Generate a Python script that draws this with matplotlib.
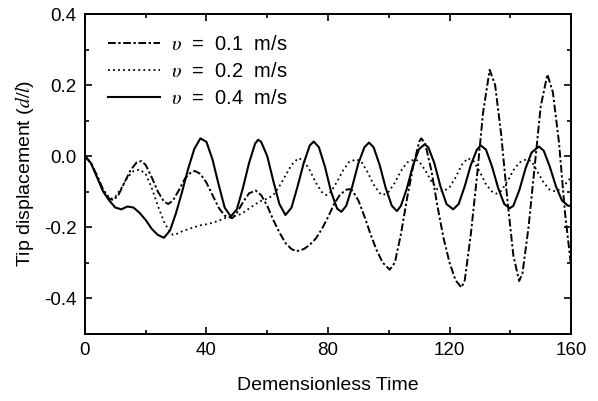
"""
Tip displacement vs dimensionless time for three pulling speeds
"""
import matplotlib.pyplot as plt
from matplotlib.ticker import MultipleLocator

plt.rcParams['font.family'] = ['Liberation Sans', 'DejaVu Sans']
plt.rcParams['mathtext.fontset'] = 'stix'

# v = 0.1 m/s (dash-dot)
t_01 = [0, 2, 4, 6, 8, 9.3, 11, 13, 15, 17, 18.6, 20, 22, 24, 26, 27.4, 29, 31, 33, 35,
        36.2, 38, 40, 42, 44, 46, 48.5, 50, 52, 54, 56.2, 58, 60, 62, 64, 66, 68, 69.6,
        72, 74, 76, 78, 80, 82, 84, 86, 87, 88, 90, 92, 94, 96, 98, 100.3, 102, 104, 106,
        108, 110, 110.7, 112, 114, 116, 118, 120, 122, 123.9, 125, 127, 129, 131, 133.2,
        135, 137, 139, 141, 142.9, 144, 146, 148, 150, 152.2, 154, 156, 158, 160]
d_01 = [0.0, -0.02, -0.055, -0.095, -0.12, -0.124, -0.11, -0.075, -0.04, -0.018, -0.014,
        -0.025, -0.06, -0.1, -0.128, -0.135, -0.125, -0.095, -0.062, -0.045, -0.042, -0.05,
        -0.075, -0.11, -0.145, -0.168, -0.175, -0.16, -0.13, -0.105, -0.097, -0.11, -0.14,
        -0.18, -0.215, -0.245, -0.262, -0.268, -0.262, -0.25, -0.232, -0.205, -0.172,
        -0.135, -0.108, -0.095, -0.093, -0.097, -0.125, -0.17, -0.22, -0.265, -0.3, -0.32,
        -0.3, -0.22, -0.12, -0.03, 0.04, 0.05, 0.035, -0.04, -0.14, -0.23, -0.3, -0.35,
        -0.37, -0.35, -0.22, -0.06, 0.12, 0.243, 0.2, 0.06, -0.12, -0.28, -0.352, -0.33,
        -0.2, -0.03, 0.14, 0.23, 0.18, 0.04, -0.16, -0.31]

# v = 0.2 m/s (dotted)
t_02 = [0, 2, 4, 6, 8, 9, 10, 12, 14, 16, 18, 20, 22, 24, 26, 28, 29, 30, 32, 34, 36, 38,
        40, 42, 44, 46, 48, 50, 52, 54, 56, 58, 60, 62, 64, 66, 68, 70.2, 72, 74, 76, 78,
        79.5, 81, 83, 85, 87, 89.4, 91, 93, 95, 97, 98.1, 100, 102, 104, 106, 108.6, 110,
        112, 114, 116, 117.9, 120, 122, 124, 126, 128, 130, 132, 134, 135.4, 137, 139, 141,
        143, 145.3, 147, 149, 151, 153, 155, 157, 159, 160]
d_02 = [0.0, -0.02, -0.055, -0.095, -0.118, -0.12, -0.115, -0.09, -0.06, -0.042, -0.038,
        -0.05, -0.09, -0.14, -0.185, -0.215, -0.222, -0.22, -0.212, -0.206, -0.2, -0.195,
        -0.192, -0.188, -0.182, -0.175, -0.17, -0.168, -0.16, -0.148, -0.136, -0.126, -0.12,
        -0.11, -0.085, -0.055, -0.025, -0.006, -0.012, -0.04, -0.075, -0.102, -0.11, -0.1,
        -0.072, -0.04, -0.016, -0.009, -0.016, -0.045, -0.08, -0.104, -0.11, -0.1, -0.075,
        -0.042, -0.018, -0.009, -0.015, -0.04, -0.07, -0.094, -0.1, -0.088, -0.06, -0.025,
        -0.006, -0.015, -0.045, -0.08, -0.1, -0.106, -0.098, -0.072, -0.04, -0.018, -0.009,
        -0.015, -0.045, -0.075, -0.095, -0.1, -0.09, -0.07, -0.06]

# v = 0.4 m/s (solid)
t_04 = [0, 2, 4, 6, 8, 10, 12, 14, 16, 18, 20, 22, 24, 26, 28, 30, 32, 34, 36, 38, 40, 42,
        44, 46, 48, 50, 52, 54, 56, 57, 58, 60, 62, 64, 66, 68, 70, 72, 74, 75.3, 77, 79,
        81, 83, 84.4, 86, 88, 90, 92, 93.5, 95, 97, 99, 101, 102.7, 104, 106, 108, 110,
        111.8, 113, 115, 117, 119, 121.2, 123, 125, 127, 129, 130.3, 132, 134, 136, 138,
        139.8, 141, 143, 145, 147, 149.4, 151, 153, 155, 157, 159, 160]
d_04 = [0.0, -0.02, -0.06, -0.1, -0.125, -0.145, -0.15, -0.142, -0.145, -0.16, -0.18,
        -0.205, -0.222, -0.23, -0.21, -0.16, -0.1, -0.035, 0.02, 0.05, 0.04, -0.01, -0.08,
        -0.145, -0.17, -0.15, -0.09, -0.02, 0.035, 0.046, 0.04, 0.0, -0.07, -0.135, -0.166,
        -0.145, -0.085, -0.02, 0.03, 0.041, 0.025, -0.03, -0.1, -0.148, -0.157, -0.14,
        -0.085, -0.02, 0.025, 0.038, 0.025, -0.025, -0.09, -0.14, -0.155, -0.14, -0.09,
        -0.025, 0.02, 0.033, 0.025, -0.02, -0.085, -0.135, -0.15, -0.135, -0.085, -0.025,
        0.018, 0.03, 0.018, -0.03, -0.09, -0.135, -0.147, -0.14, -0.095, -0.035, 0.01,
        0.027, 0.015, -0.03, -0.085, -0.125, -0.14, -0.14]

labels = [r'$\upsilon$  =  0.1  m/s', r'$\upsilon$  =  0.2  m/s', r'$\upsilon$  =  0.4  m/s']
yticks = [-0.4, -0.2, 0.0, 0.2, 0.4]
ytick_labels = ['-0.4', '-0.2', '0.0', '0.2', '0.4']

fig = plt.figure(figsize=(5.98, 4.01), dpi=100)
ax = fig.add_axes([0.142, 0.168, 0.813, 0.797])

ax.plot(t_01, d_01, color='black', lw=1.4, linestyle=(0, (4, 1.3, 1.2, 1.3)), label=labels[0])
ax.plot(t_02, d_02, color='black', lw=1.3, linestyle=(0, (1, 1.8)), label=labels[1])
ax.plot(t_04, d_04, color='black', lw=1.5, linestyle='-', label=labels[2])

ax.set_xlim(0, 160)
ax.set_ylim(-0.5, 0.4)
ax.xaxis.set_major_locator(MultipleLocator(40))
ax.xaxis.set_minor_locator(MultipleLocator(20))
ax.yaxis.set_minor_locator(MultipleLocator(0.1))
ax.set_yticks(yticks)
ax.set_yticklabels(ytick_labels)
ax.tick_params(which='both', direction='in', top=True, right=True, labelsize=13.5, width=1.2)
ax.tick_params(which='major', length=5, pad=6)
ax.tick_params(which='minor', length=3)
for s in ax.spines.values():
    s.set_linewidth(1.4)

ax.set_xlabel('Demensionless Time', fontsize=14, labelpad=13)
ax.set_ylabel(r'Tip displacement ($d/l$)', fontsize=14, labelpad=6)

ax.legend(loc='upper left', bbox_to_anchor=(0.01, 0.99), frameon=False, fontsize=14.5,
          handlelength=2.6, handletextpad=0.55, labelspacing=0.38)

plt.savefig('out.png', dpi=100)
plt.close()
